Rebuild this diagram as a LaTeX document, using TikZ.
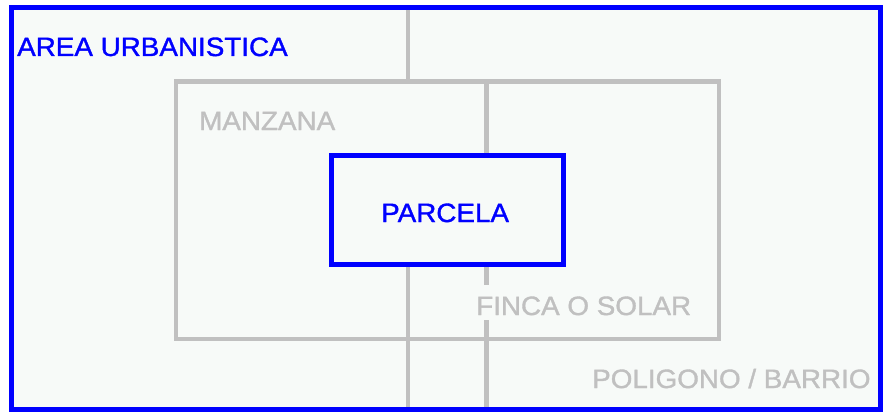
\documentclass[tikz,border=0pt]{standalone}
\usepackage{fontspec}
\setmainfont{Liberation Sans}
\newfontfamily\lblfont[FakeStretch=1.05,FakeBold=1.3]{Liberation Sans}
\definecolor{bgc}{HTML}{F7FAF8}
\definecolor{bluec}{HTML}{0000FF}
\definecolor{grayc}{HTML}{C0C0C0}
\tikzset{
  bluebox/.style={draw=bluec, line width=5pt},
  graybox/.style={draw=grayc, line width=4.5pt},
  grayline/.style={draw=grayc, line width=4.5pt},
  lbl/.style={font=\lblfont\fontsize{26.5}{30}\selectfont, inner sep=0pt, anchor=base west},
  bluelbl/.style={lbl, text=bluec},
  graylbl/.style={lbl, text=grayc}
}
\begin{document}
\begin{tikzpicture}[x=1pt,y=-1pt]
\useasboundingbox (0,0) rectangle (888,412);
\fill[white] (0,0) rectangle (888,412);
% outer area
\fill[bgc] (11,8) rectangle (880,409);
% grid lines
\draw[grayline] (408,8) -- (408,81.5);
\draw[grayline] (408,264) -- (408,409);
\draw[grayline] (486.5,81.5) -- (486.5,155);
\draw[grayline] (486.5,264) -- (486.5,285);
\draw[grayline] (486.5,320) -- (486.5,409);
% manzana
\draw[graybox] (176,81.5) rectangle (719,339);
% parcela
\draw[bluebox, fill=bgc] (331.5,155) rectangle (563,264);
% outer border
\draw[bluebox] (11,8) rectangle (880,409);
% labels
\node[bluelbl] (area) at (17,56) {AREA URBANISTICA};
\node[graylbl] (manzana) at (199,130) {MANZANA};
\node[bluelbl] (parcela) at (381,222) {PARCELA};
\node[graylbl] (finca) at (476,315) {FINCA O SOLAR};
\node[graylbl] (poligono) at (592,388) {POLIGONO / BARRIO};
\end{tikzpicture}
\end{document}
